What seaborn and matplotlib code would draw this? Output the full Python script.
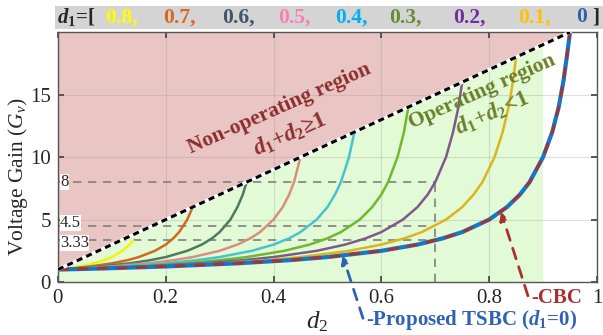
import matplotlib
matplotlib.use("Agg")
import matplotlib.pyplot as plt
from matplotlib.patches import Rectangle
import seaborn as sns
import pandas as pd

# d1 values and curve colours (header colours differ a little from the curve colours)
d1_values = ['0.8', '0.7', '0.6', '0.5', '0.4', '0.3', '0.2', '0.1', '0']
curve_colors = ['#f2f20a', '#d0691c', '#4f7a5f', '#d98f7b', '#45c4cf',
                '#6fb92e', '#7d5a8c', '#dcb41c', '#1478c8']
header_colors = ['#ffff00', '#d9691e', '#44546a', '#f77fb5', '#00b0f0',
                 '#6b8a35', '#7030a0', '#ffc000', '#2e62b0']

# points (d2, voltage gain)
d2_points = [
    [0, 0.018, 0.04, 0.067, 0.086, 0.1, 0.12, 0.133, 0.14],
    [0, 0.027, 0.06, 0.1, 0.129, 0.15, 0.18, 0.2, 0.214, 0.225, 0.24, 0.25],
    [0, 0.036, 0.08, 0.133, 0.171, 0.2, 0.24, 0.267, 0.286, 0.3, 0.32, 0.333, 0.343, 0.35],
    [0, 0.045, 0.1, 0.167, 0.214, 0.25, 0.3, 0.333, 0.357, 0.375, 0.4, 0.417, 0.429, 0.438, 0.45],
    [0, 0.055, 0.12, 0.2, 0.257, 0.3, 0.36, 0.4, 0.429, 0.45, 0.48, 0.5, 0.514, 0.525, 0.54, 0.55],
    [0, 0.064, 0.14, 0.233, 0.3, 0.35, 0.42, 0.467, 0.5, 0.525, 0.56, 0.583, 0.6, 0.6125, 0.63,
     0.642, 0.65],
    [0, 0.073, 0.16, 0.267, 0.343, 0.4, 0.48, 0.533, 0.571, 0.6, 0.64, 0.667, 0.686, 0.7, 0.72,
     0.733, 0.743, 0.75],
    [0, 0.082, 0.18, 0.3, 0.386, 0.45, 0.54, 0.6, 0.643, 0.675, 0.72, 0.75, 0.771, 0.7875, 0.81,
     0.825, 0.836, 0.844, 0.85],
    [0, 0.091, 0.2, 0.333, 0.429, 0.5, 0.6, 0.667, 0.714, 0.75, 0.8, 0.833, 0.857, 0.875, 0.9,
     0.917, 0.929, 0.9375, 0.944, 0.95],
]
gain_levels = [1, 1.1, 1.25, 1.5, 1.75, 2, 2.5, 3, 3.5, 4, 5, 6, 7, 8, 10, 12, 14, 16, 18, 20]
gain_first = [1, 1.1, 1.25, 1.5, 1.75, 2, 2.5, 3, 3.33]

# operating boundary d1+d2=1 (straight dashed line) and region edges
boundary_d2 = [0, 0.95]
boundary_gain = [1, 20]
operating_edge = 0.9

# reference gains at d2 = 0.7
ref_d2 = 0.7
ref_gains = [8, 4.5, 3.33]
ref_labels = ['8', '4.5', '3.33']
ref_label_nudge = [0, 0.22, -0.2]  # keep the two close labels from touching

rows = []
for i, d1 in enumerate(d1_values):
    gains = gain_first if i == 0 else gain_levels[:len(d2_points[i])]
    for x, g in zip(d2_points[i], gains):
        rows.append({'d1': d1, 'd2': x, 'gain': g})
df = pd.DataFrame(rows)

sns.set_theme(style='ticks')
plt.rcParams['font.family'] = ['Liberation Serif', 'DejaVu Serif']
plt.rcParams['mathtext.fontset'] = 'custom'
plt.rcParams['mathtext.rm'] = 'Liberation Serif'
plt.rcParams['mathtext.it'] = 'Liberation Serif:italic'
plt.rcParams['mathtext.bf'] = 'Liberation Serif:bold'
plt.rcParams['mathtext.bfit'] = 'Liberation Serif:bold:italic'

fig = plt.figure(figsize=(6.03, 3.35), dpi=100)
ax = fig.add_axes([0.096, 0.158, 0.894, 0.746])

# shaded regions
ax.fill([0, boundary_d2[1], 0], [boundary_gain[0], boundary_gain[1], boundary_gain[1]],
        color='#e9c5c4', lw=0, zorder=0)
edge_gain = boundary_gain[0] + (boundary_gain[1] - boundary_gain[0]) * operating_edge / boundary_d2[1]
ax.fill([0, 0, operating_edge, operating_edge], [0, boundary_gain[0], edge_gain, 0],
        color='#e2fad5', lw=0, zorder=0)

# reference dashed lines
for g in ref_gains:
    ax.plot([0, ref_d2], [g, g], color='#808080', lw=1.2, ls=(0, (5, 4)), zorder=1.8)
ax.plot([ref_d2, ref_d2], [0, max(ref_gains)], color='#808080', lw=1.2, ls=(0, (5, 4)), zorder=1.8)

sns.lineplot(data=df[df['d1'] != '0'], x='d2', y='gain', hue='d1',
             palette=dict(zip(d1_values, curve_colors)), sort=False, estimator=None,
             lw=1.8, legend=False, ax=ax, zorder=2)

# d1 = 0 : proposed TSBC (blue) and CBC (dashed red) coincide
tsbc = df[df['d1'] == '0']
sns.lineplot(data=tsbc, x='d2', y='gain', color=curve_colors[-1], lw=3, sort=False,
             estimator=None, ax=ax, zorder=2.5)
sns.lineplot(data=tsbc, x='d2', y='gain', color='#a83232', lw=2, ls=(0, (4, 3)), sort=False,
             estimator=None, ax=ax, zorder=2.6)

# boundary line
ax.plot(boundary_d2, boundary_gain, color='white', lw=2.6, zorder=3)
ax.plot(boundary_d2, boundary_gain, color='black', lw=2.2, ls=(0, (2, 1.4)), zorder=3.1)

for g, lab, dy in zip(ref_gains, ref_labels, ref_label_nudge):
    ax.text(0.004, g + dy, lab, fontsize=12, ha='left', va='center', zorder=4,
            bbox=dict(facecolor='white', edgecolor='none', pad=0.1))

ax.set_xlim(0, 1)
ax.set_ylim(0, 20)
ax.set_xticks([0, 0.2, 0.4, 0.6, 0.8, 1])
ax.set_xticklabels(['0', '0.2', '0.4', '0.6', '0.8', '1'])
ax.set_yticks([0, 5, 10, 15])
ax.tick_params(direction='in', length=4, labelsize=15, top=True, right=True,
               color='#444444', pad=5)
ax.grid(True, color='#9a9a9a', alpha=0.3, lw=0.8)
ax.set_axisbelow('line')
for s in ax.spines.values():
    s.set_color('#555555')
    s.set_linewidth(1.0)

ax.set_xlabel('$d_2$', fontsize=18)
ax.xaxis.set_label_coords(0.48, -0.11)
ax.set_ylabel('Voltage Gain ($G_v$)', fontsize=15.5)
ax.yaxis.set_label_coords(-0.052, 0.42)

# region labels
ax.text(0.411, 13.9, 'Non-operating region', color='#8b2e2e', fontsize=15.5, fontweight='bold',
        rotation=24, ha='center', va='center', zorder=4)
ax.text(0.431, 11.8, r'$\mathbfit{d}_\mathbf{1}$+$\mathbfit{d}_\mathbf{2}$≥1', color='#8b2e2e',
        fontsize=16.5, fontweight='bold', rotation=24, ha='center', va='center', zorder=4)
ax.text(0.787, 15.2, 'Operating region', color='#6b7f2a', fontsize=15.5, fontweight='bold',
        rotation=24, ha='center', va='center', zorder=4)
ax.text(0.806, 13.5, r'$\mathbfit{d}_\mathbf{1}$+$\mathbfit{d}_\mathbf{2}$<1', color='#6b7f2a',
        fontsize=16.5, fontweight='bold', rotation=24, ha='center', va='center', zorder=4)

# annotations
ax.annotate('', xy=(0.822, 5.62), xytext=(0.872, -1.1), annotation_clip=False,
            arrowprops=dict(arrowstyle='-|>', color='#a83232', lw=2, ls=(0, (4, 3)),
                            mutation_scale=12, shrinkA=0, shrinkB=0), zorder=5)
ax.text(0.878, -1.3, '-CBC', color='#a83232', fontsize=15, fontweight='bold',
        ha='left', va='center', clip_on=False)
ax.annotate('', xy=(0.528, 2.12), xytext=(0.566, -2.9), annotation_clip=False,
            arrowprops=dict(arrowstyle='-|>', color='#2e62b4', lw=2, ls=(0, (4, 3)),
                            mutation_scale=12, shrinkA=0, shrinkB=0), zorder=5)
ax.text(0.572, -3.05, r'-Proposed TSBC ($\mathbfit{d}_\mathbf{1}$=0)', color='#2e62b4',
        fontsize=15, fontweight='bold', ha='left', va='center', clip_on=False)

# header with d1 values
fig.patches.append(Rectangle((0.091, 0.913), 0.909, 0.069, transform=fig.transFigure,
                             facecolor='#d4d4d4', edgecolor='none'))
fig.text(0.095, 0.948, r'$\mathbfit{d}_\mathbf{1}$=[', fontsize=15, fontweight='bold',
         ha='left', va='center')
header_x = [121, 179, 238, 294, 351, 405, 469, 534, 582]
for i, (d1, c) in enumerate(zip(d1_values, header_colors)):
    lab = d1 if d1 == '0' else d1 + ','
    fig.text(header_x[i] / 603, 0.948, lab, color=c, fontsize=15.5, fontweight='bold',
             ha='center', va='center')
fig.text(596 / 603, 0.948, ']', fontsize=15, fontweight='bold', ha='center', va='center')

fig.savefig('out.png', dpi=100)
